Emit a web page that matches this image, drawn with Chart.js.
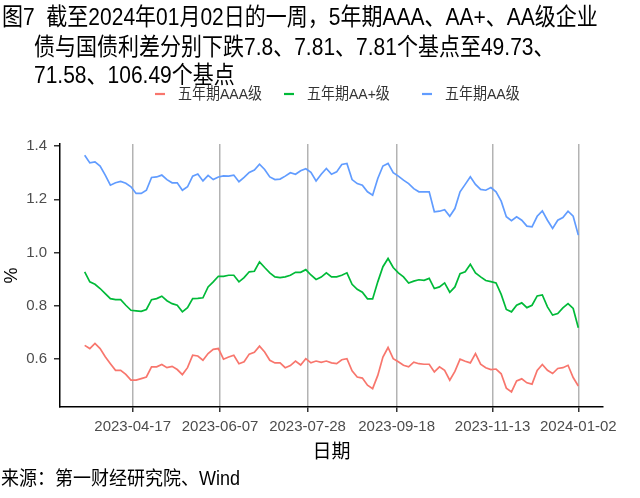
<!DOCTYPE html>
<html>
<head>
<meta charset="utf-8">
<script src="https://cdn.jsdelivr.net/npm/chart.js@4.4.1/dist/chart.umd.min.js"></script>
<style>
  body { margin: 0; background: #fff; font-family: "Liberation Sans", "Noto Sans CJK SC", sans-serif; }
  #wrap { position: relative; width: 640px; height: 498px; overflow: hidden; }
  #c { position: absolute; left: 0; top: 0; }
  .t { position: absolute; font-size: 21px; line-height: 21px; color: #000; white-space: nowrap;
       transform: scaleY(1.15); transform-origin: 0 18px; }
  .lg { position: absolute; top: 86px; font-size: 14px; line-height: 16px; color: #333; white-space: nowrap;
        transform: scaleY(1.1); transform-origin: 0 8px; }
  .lg i { position: absolute; top: 7px; width: 10px; height: 2px; }
  .src { position: absolute; left: 1px; top: 469px; font-size: 18px; line-height: 18px; color: #000; white-space: nowrap;
         transform: scaleY(1.1); transform-origin: 0 9px; }
</style>
</head>
<body>
<div id="wrap">
  <canvas id="c" width="640" height="498"></canvas>
  <div class="t" style="left:2px;top:7px">图7&nbsp;&nbsp;截至2024年01月02日的一周，5年期AAA、AA+、AA级企业</div>
  <div class="t" style="left:34px;top:37px">债与国债利差分别下跌7.8、7.81、7.81个基点至49.73、</div>
  <div class="t" style="left:34px;top:65px">71.58、106.49个基点</div>
  <div id="legend"></div>
  <div class="src">来源：第一财经研究院、Wind</div>
</div>
<script>
// 日期（约每3天取一个读数）
const dates = [
  '2023-03-20','2023-03-23','2023-03-26','2023-03-29','2023-04-01','2023-04-04','2023-04-07','2023-04-10','2023-04-13','2023-04-16',
  '2023-04-19','2023-04-22','2023-04-25','2023-04-28','2023-05-01','2023-05-04','2023-05-07','2023-05-10','2023-05-13','2023-05-16',
  '2023-05-19','2023-05-22','2023-05-25','2023-05-28','2023-05-31','2023-06-03','2023-06-06','2023-06-09','2023-06-12','2023-06-15',
  '2023-06-18','2023-06-21','2023-06-24','2023-06-27','2023-06-30','2023-07-03','2023-07-06','2023-07-09','2023-07-12','2023-07-15',
  '2023-07-18','2023-07-21','2023-07-24','2023-07-27','2023-07-30','2023-08-02','2023-08-05','2023-08-08','2023-08-11','2023-08-14',
  '2023-08-17','2023-08-20','2023-08-23','2023-08-26','2023-08-29','2023-09-01','2023-09-04','2023-09-07','2023-09-10','2023-09-13',
  '2023-09-16','2023-09-19','2023-09-22','2023-09-25','2023-09-28','2023-10-01','2023-10-04','2023-10-07','2023-10-10','2023-10-13',
  '2023-10-16','2023-10-19','2023-10-22','2023-10-25','2023-10-28','2023-10-31','2023-11-03','2023-11-06','2023-11-09','2023-11-12',
  '2023-11-15','2023-11-18','2023-11-21','2023-11-24','2023-11-27','2023-11-30','2023-12-03','2023-12-06','2023-12-09','2023-12-12',
  '2023-12-15','2023-12-18','2023-12-21','2023-12-24','2023-12-27','2023-12-30','2024-01-02'
];

// 五年期AAA级
const aaa = [
  0.650,0.638,0.657,0.638,0.607,0.581,0.556,0.556,0.541,0.519,
  0.519,0.525,0.531,0.569,0.569,0.578,0.566,0.571,0.559,0.540,
  0.566,0.613,0.610,0.594,0.619,0.635,0.638,0.598,0.606,0.613,
  0.581,0.588,0.617,0.624,0.647,0.625,0.594,0.584,0.584,0.566,
  0.574,0.591,0.576,0.600,0.584,0.591,0.586,0.591,0.584,0.581,
  0.596,0.600,0.554,0.531,0.527,0.500,0.487,0.537,0.606,0.642,
  0.600,0.588,0.575,0.569,0.587,0.581,0.579,0.579,0.550,0.569,
  0.556,0.519,0.552,0.598,0.590,0.584,0.619,0.579,0.566,0.559,
  0.561,0.543,0.489,0.475,0.516,0.524,0.509,0.504,0.556,0.578,
  0.556,0.544,0.563,0.566,0.575,0.529,0.497
];

// 五年期AA+级
const aaPlus = [
  0.927,0.889,0.880,0.864,0.845,0.826,0.822,0.822,0.801,0.782,
  0.780,0.778,0.785,0.822,0.826,0.835,0.818,0.807,0.801,0.776,
  0.792,0.826,0.827,0.829,0.870,0.889,0.910,0.910,0.914,0.914,
  0.889,0.905,0.927,0.929,0.964,0.943,0.923,0.908,0.905,0.908,
  0.914,0.925,0.925,0.935,0.915,0.898,0.907,0.923,0.908,0.908,
  0.914,0.923,0.880,0.861,0.850,0.825,0.825,0.889,0.946,0.977,
  0.943,0.923,0.908,0.885,0.892,0.897,0.895,0.902,0.864,0.870,
  0.885,0.850,0.870,0.920,0.927,0.955,0.923,0.908,0.894,0.890,
  0.885,0.842,0.785,0.776,0.801,0.810,0.792,0.801,0.836,0.840,
  0.795,0.764,0.770,0.791,0.807,0.789,0.716
];

// 五年期AA级
const aa = [
  1.366,1.337,1.341,1.325,1.291,1.253,1.262,1.267,1.260,1.247,
  1.222,1.222,1.234,1.282,1.284,1.291,1.274,1.262,1.262,1.234,
  1.247,1.287,1.295,1.269,1.290,1.274,1.284,1.288,1.287,1.291,
  1.266,1.282,1.301,1.310,1.332,1.312,1.284,1.274,1.276,1.287,
  1.300,1.294,1.307,1.315,1.301,1.269,1.294,1.316,1.294,1.303,
  1.331,1.335,1.274,1.259,1.253,1.228,1.215,1.278,1.325,1.335,
  1.300,1.287,1.272,1.259,1.240,1.228,1.228,1.228,1.153,1.155,
  1.161,1.136,1.165,1.228,1.256,1.285,1.256,1.237,1.234,1.244,
  1.228,1.193,1.134,1.119,1.134,1.121,1.099,1.096,1.136,1.156,
  1.121,1.090,1.121,1.131,1.155,1.136,1.065
];

const tickLabels = ['2023-04-17','2023-06-07','2023-07-28','2023-09-18','2023-11-13','2024-01-02'];
const yTicks = [0.6, 0.8, 1.0, 1.2, 1.4];

const names = ['五年期AAA级', '五年期AA+级', '五年期AA级'];
const colors = ['#F8766D', '#00BA38', '#619CFF'];

// x 用相对 2023-04-17 的天数
const base = Date.parse('2023-04-17');
const dayOf = s => Math.round((Date.parse(s) - base) / 86400000);
const tickDays = tickLabels.map(dayOf);
const toPts = arr => arr.map((v, i) => ({ x: dayOf(dates[i]), y: v }));

Chart.defaults.font.family = '"Liberation Sans", "Noto Sans CJK SC", sans-serif';

const ds = [aaa, aaPlus, aa].map((arr, i) => ({
  label: names[i],
  data: toPts(arr),
  borderColor: colors[i],
  borderWidth: 1.7,
  pointRadius: 0,
  tension: 0
}));

new Chart(document.getElementById('c').getContext('2d'), {
  type: 'line',
  data: { datasets: ds },
  options: {
    responsive: false,
    animation: false,
    devicePixelRatio: 1,
    layout: { padding: { top: 144, right: 37, left: 0, bottom: 0 } },
    plugins: { legend: { display: false }, tooltip: { enabled: false } },
    scales: {
      x: {
        type: 'linear',
        min: -42.4,
        max: 274.4,
        afterBuildTicks: s => { s.ticks = tickDays.map(v => ({ value: v })); },
        afterFit: s => { s.height = 91; },
        ticks: {
          callback: v => tickLabels[tickDays.indexOf(v)],
          font: { size: 15 },
          color: '#4d4d4d',
          padding: 6,
          maxRotation: 0,
          autoSkip: false
        },
        grid: { color: '#b3b3b3', lineWidth: 1.5, tickLength: 5, tickColor: '#333' },
        border: { color: '#000', width: 1.5 },
        title: { display: true, text: '日期', font: { size: 19 }, color: '#000', padding: { top: 0, bottom: 34 } }
      },
      y: {
        min: 0.418,
        max: 1.408,
        afterBuildTicks: s => { s.ticks = yTicks.map(v => ({ value: v })); },
        afterFit: s => { s.width = 60; },
        ticks: {
          callback: v => v.toFixed(1),
          font: { size: 15 },
          color: '#4d4d4d',
          padding: 7
        },
        grid: { drawOnChartArea: false, tickLength: 6, tickColor: '#333', lineWidth: 1.5 },
        border: { color: '#000', width: 1.5 },
        title: { display: true, text: '%', font: { size: 18 }, color: '#000', padding: { top: 1, bottom: 0 } }
      }
    }
  }
});

// 图例
const lgPos = [155, 284, 422];
const legend = document.getElementById('legend');
names.forEach((n, i) => {
  const el = document.createElement('div');
  el.className = 'lg';
  el.style.left = lgPos[i] + 'px';
  el.innerHTML = '<i style="left:0;background:' + colors[i] + '"></i><span style="margin-left:23px">' + n + '</span>';
  legend.appendChild(el);
});
</script>
</body>
</html>
